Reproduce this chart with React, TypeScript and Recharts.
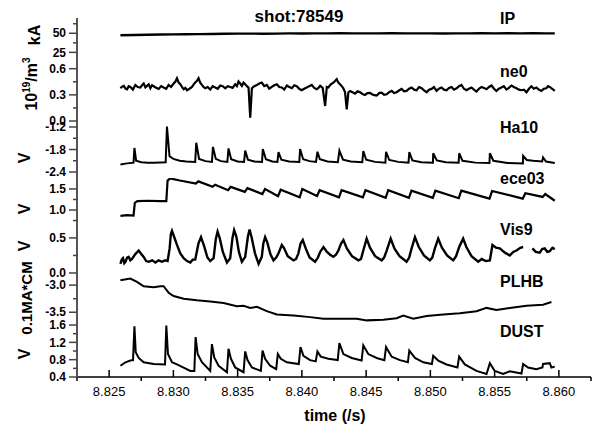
// Stacked shot traces, shot 78549

import { LineChart, Line, XAxis, YAxis } from "recharts";

const FONT = "'Liberation Sans', Arial, sans-serif";

const xTicks = [
  8.8225, 8.825, 8.8275, 8.83, 8.8325, 8.835, 8.8375, 8.84, 8.8425, 8.845,
  8.8475, 8.85, 8.8525, 8.855, 8.8575, 8.86, 8.8625,
];

const ipTicks = [25, 37.5, 50, 62.5];
const ipLabels = [25, 50];
const ne0Ticks = [0, 0.15, 0.3, 0.45, 0.6];
const ne0Labels = [0, 0.3, 0.6];
const ha10Ticks = [-2.4, -2.1, -1.8, -1.5, -1.2];
const ha10Labels = [-2.4, -1.8, -1.2];
const ece03Ticks = [0.75, 1.0, 1.25, 1.5];
const ece03Labels = [1.0, 1.5];
const vis9Ticks = [0, 0.25, 0.5];
const vis9Labels = [0, 0.5];
const plhbTicks = [-3.5, -3.25, -3.0];
const plhbLabels = [-3.5, -3.0];
const dustTicks = [0.4, 0.6, 0.8, 1.0, 1.2, 1.4, 1.6];
const dustLabels = [0.4, 0.8, 1.2, 1.6];

// [time (s), value]
const ipData = [
  [8.82588, 47.4], [8.827, 47.7], [8.828, 48.0], [8.829, 48.3], [8.83, 48.5],
  [8.831, 48.7], [8.832, 48.9], [8.833, 49.0], [8.834, 49.3], [8.835, 49.5],
  [8.836, 49.6], [8.837, 49.4], [8.838, 49.6], [8.839, 49.8], [8.84, 49.7],
  [8.841, 49.9], [8.842, 49.8], [8.843, 50.0], [8.844, 49.8], [8.845, 49.9],
  [8.846, 49.8], [8.847, 50.0], [8.848, 49.9], [8.849, 49.8], [8.85, 49.9],
  [8.851, 49.7], [8.852, 49.9], [8.853, 49.8], [8.854, 50.0], [8.855, 49.9],
  [8.856, 50.1], [8.857, 49.9], [8.858, 50.0], [8.859, 49.8], [8.85968, 49.9],
];

const ne0Data = [
  [8.82588, 0.376], [8.82601, 0.395], [8.82614, 0.403], [8.82627, 0.372], [8.8264, 0.364],
  [8.82652, 0.4], [8.82665, 0.391], [8.82685, 0.36], [8.82704, 0.414], [8.82723, 0.39],
  [8.82743, 0.384], [8.82756, 0.41], [8.82769, 0.43], [8.82782, 0.385], [8.82795, 0.403],
  [8.82808, 0.42], [8.82821, 0.376], [8.82834, 0.41], [8.82847, 0.399], [8.82866, 0.38],
  [8.82886, 0.368], [8.82905, 0.4], [8.82924, 0.384], [8.82944, 0.37], [8.82963, 0.414],
  [8.82982, 0.39], [8.83002, 0.43], [8.83015, 0.45], [8.83028, 0.491], [8.83041, 0.44],
  [8.83054, 0.422], [8.83067, 0.39], [8.8308, 0.364], [8.83093, 0.38], [8.83106, 0.353],
  [8.83125, 0.37], [8.83145, 0.391], [8.83158, 0.42], [8.8317, 0.441], [8.83183, 0.46],
  [8.83196, 0.491], [8.83209, 0.44], [8.83222, 0.414], [8.83235, 0.39], [8.83248, 0.376],
  [8.83267, 0.39], [8.83287, 0.361], [8.83306, 0.4], [8.83326, 0.384], [8.83345, 0.37],
  [8.83365, 0.407], [8.83384, 0.4], [8.83404, 0.376], [8.83423, 0.4], [8.83442, 0.391],
  [8.83461, 0.38], [8.83481, 0.422], [8.83494, 0.4], [8.83507, 0.453], [8.8352, 0.43],
  [8.83533, 0.403], [8.83546, 0.44], [8.83559, 0.422], [8.83572, 0.4], [8.83585, 0.384],
  [8.83598, 0.038], [8.83611, 0.376], [8.8363, 0.4], [8.8365, 0.414], [8.83669, 0.43],
  [8.83688, 0.441], [8.83707, 0.4], [8.83727, 0.414], [8.83746, 0.37], [8.83766, 0.391],
  [8.83785, 0.41], [8.83805, 0.422], [8.83824, 0.39], [8.83844, 0.384], [8.83863, 0.36],
  [8.83883, 0.407], [8.83902, 0.39], [8.83922, 0.376], [8.83941, 0.41], [8.8396, 0.399],
  [8.83979, 0.37], [8.83999, 0.353], [8.84018, 0.37], [8.84038, 0.384], [8.84057, 0.4],
  [8.84077, 0.414], [8.84096, 0.38], [8.84116, 0.364], [8.84129, 0.38], [8.84142, 0.403],
  [8.84162, 0.38], [8.84181, 0.172], [8.84194, 0.39], [8.84206, 0.384], [8.84225, 0.42],
  [8.84245, 0.441], [8.84258, 0.46], [8.84271, 0.48], [8.84284, 0.44], [8.84297, 0.422],
  [8.8431, 0.4], [8.84323, 0.376], [8.84336, 0.33], [8.84349, 0.134], [8.84362, 0.33],
  [8.84375, 0.345], [8.84394, 0.33], [8.84414, 0.314], [8.84433, 0.34], [8.84453, 0.33],
  [8.84472, 0.31], [8.84491, 0.299], [8.8451, 0.32], [8.8453, 0.322], [8.84556, 0.3],
  [8.84582, 0.291], [8.84601, 0.32], [8.84621, 0.326], [8.8464, 0.3], [8.8466, 0.307],
  [8.84679, 0.33], [8.84699, 0.345], [8.84718, 0.32], [8.84737, 0.33], [8.84756, 0.35],
  [8.84776, 0.368], [8.84795, 0.34], [8.84815, 0.345], [8.84834, 0.37], [8.84854, 0.384],
  [8.84873, 0.36], [8.84893, 0.353], [8.84912, 0.39], [8.84932, 0.376], [8.84951, 0.35],
  [8.84971, 0.33], [8.8499, 0.36], [8.85009, 0.368], [8.85028, 0.39], [8.85048, 0.345],
  [8.85067, 0.37], [8.85087, 0.384], [8.85106, 0.36], [8.85126, 0.353], [8.85145, 0.38],
  [8.85165, 0.391], [8.85184, 0.36], [8.85204, 0.376], [8.85223, 0.4], [8.85242, 0.414],
  [8.85261, 0.37], [8.85281, 0.353], [8.853, 0.37], [8.8532, 0.384], [8.85339, 0.36],
  [8.85359, 0.338], [8.85378, 0.37], [8.85398, 0.391], [8.85417, 0.38], [8.85437, 0.364],
  [8.85456, 0.39], [8.85476, 0.407], [8.85495, 0.37], [8.85514, 0.345], [8.85533, 0.37],
  [8.85553, 0.384], [8.85572, 0.4], [8.85592, 0.361], [8.85611, 0.38], [8.85631, 0.407],
  [8.8565, 0.39], [8.8567, 0.376], [8.8569, 0.36], [8.85709, 0.353], [8.85728, 0.36],
  [8.85748, 0.33], [8.85767, 0.37], [8.85786, 0.399], [8.85805, 0.37], [8.85825, 0.384],
  [8.85844, 0.36], [8.85864, 0.345], [8.85883, 0.37], [8.85903, 0.376], [8.85916, 0.4],
  [8.85929, 0.391], [8.85948, 0.37], [8.85968, 0.345],
];

const ha10Data = [
  [8.82588, -2.2], [8.8264, -2.17], [8.8269, -2.15], [8.82697, -1.76], [8.8271, -2.1],
  [8.8275, -2.14], [8.828, -2.15], [8.8285, -2.15], [8.8294, -2.14], [8.8295, -1.19],
  [8.8297, -1.98], [8.83, -2.05], [8.8305, -2.1], [8.831, -2.12], [8.8317, -2.13],
  [8.83178, -1.62], [8.832, -2.05], [8.8325, -2.11], [8.833, -2.13], [8.83308, -1.73],
  [8.8333, -2.05], [8.8337, -2.11], [8.8342, -2.13], [8.83429, -1.77], [8.8345, -2.06],
  [8.835, -2.12], [8.8355, -2.13], [8.83559, -1.83], [8.8358, -2.07], [8.8363, -2.12],
  [8.8369, -2.13], [8.83696, -1.79], [8.8372, -2.06], [8.8377, -2.12], [8.8381, -2.13],
  [8.83818, -1.87], [8.8384, -2.07], [8.839, -2.12], [8.8398, -2.13], [8.83986, -1.79],
  [8.8401, -2.06], [8.8406, -2.11], [8.8411, -2.13], [8.84121, -1.86], [8.8414, -2.06],
  [8.842, -2.12], [8.8428, -2.14], [8.84292, -1.83], [8.8432, -2.07], [8.8438, -2.12],
  [8.8447, -2.14], [8.84478, -1.84], [8.845, -2.07], [8.8457, -2.13], [8.8465, -2.15],
  [8.84655, -1.86], [8.8468, -2.08], [8.8475, -2.13], [8.8483, -2.15], [8.84836, -1.87],
  [8.8486, -2.09], [8.8493, -2.14], [8.8502, -2.15], [8.85022, -1.9], [8.8505, -2.09],
  [8.8512, -2.14], [8.8522, -2.15], [8.85224, -1.9], [8.8525, -2.1], [8.8535, -2.15],
  [8.8546, -2.16], [8.85463, -1.9], [8.8549, -2.1], [8.856, -2.16], [8.8572, -2.17],
  [8.85722, -1.97], [8.8575, -2.08], [8.858, -2.1], [8.8587, -2.12], [8.85877, -2.01],
  [8.859, -2.12], [8.85968, -2.16],
];

const ece03Data = [
  [8.82588, 0.86], [8.8264, 0.88], [8.8269, 0.87], [8.827, 1.17], [8.8272, 1.21],
  [8.828, 1.22], [8.829, 1.21], [8.82945, 1.21], [8.82955, 1.7], [8.82975, 1.75],
  [8.8305, 1.7], [8.83175, 1.63], [8.83195, 1.68], [8.83305, 1.55], [8.83325, 1.6],
  [8.83426, 1.47], [8.83446, 1.55], [8.83556, 1.43], [8.83576, 1.52], [8.83693, 1.38],
  [8.83713, 1.5], [8.83815, 1.33], [8.83835, 1.48], [8.83983, 1.3], [8.84003, 1.5],
  [8.84118, 1.33], [8.84138, 1.47], [8.84289, 1.3], [8.84309, 1.47], [8.84475, 1.3],
  [8.84495, 1.47], [8.84652, 1.29], [8.84672, 1.47], [8.84833, 1.29], [8.84853, 1.46],
  [8.85019, 1.29], [8.85039, 1.46], [8.85221, 1.28], [8.85241, 1.46], [8.8546, 1.27],
  [8.8548, 1.45], [8.85719, 1.27], [8.85739, 1.4], [8.85874, 1.31], [8.85894, 1.38],
  [8.85968, 1.22],
];

const vis9Data = [
  [8.82588, 0.13], [8.82598, 0.19], [8.82608, 0.21], [8.82618, 0.14], [8.82627, 0.16],
  [8.8264, 0.22], [8.82652, 0.23], [8.82665, 0.18], [8.82678, 0.2], [8.82704, 0.27],
  [8.8273, 0.32], [8.8275, 0.27], [8.82769, 0.23], [8.82788, 0.17], [8.82808, 0.16],
  [8.82835, 0.18], [8.8286, 0.15], [8.82885, 0.18], [8.82911, 0.16], [8.82935, 0.18],
  [8.82955, 0.17], [8.82971, 0.35], [8.8298, 0.55], [8.82989, 0.6], [8.83005, 0.52],
  [8.83028, 0.4], [8.83054, 0.28], [8.8308, 0.21], [8.83106, 0.17], [8.83132, 0.15],
  [8.8315, 0.19], [8.8317, 0.19], [8.83195, 0.42], [8.83215, 0.51], [8.8324, 0.38],
  [8.83265, 0.22], [8.83287, 0.17], [8.83313, 0.21], [8.8333, 0.48], [8.83344, 0.59],
  [8.8336, 0.5], [8.83385, 0.3], [8.83417, 0.15], [8.83442, 0.21], [8.8346, 0.5],
  [8.83473, 0.61], [8.8349, 0.52], [8.8351, 0.3], [8.83533, 0.16], [8.83559, 0.23],
  [8.8358, 0.52], [8.83593, 0.62], [8.8361, 0.5], [8.83635, 0.28], [8.83663, 0.13],
  [8.83688, 0.23], [8.837, 0.42], [8.83714, 0.51], [8.8373, 0.44], [8.83755, 0.27],
  [8.83779, 0.18], [8.838, 0.22], [8.83818, 0.28], [8.83844, 0.4], [8.8386, 0.36],
  [8.8389, 0.24], [8.83935, 0.18], [8.83955, 0.2], [8.83973, 0.28], [8.8399, 0.42],
  [8.84007, 0.47], [8.8403, 0.35], [8.8406, 0.22], [8.84103, 0.16], [8.84125, 0.22],
  [8.84142, 0.3], [8.84168, 0.37], [8.84195, 0.3], [8.8422, 0.26], [8.84245, 0.23],
  [8.84265, 0.26], [8.84284, 0.32], [8.84305, 0.42], [8.84323, 0.47], [8.8435, 0.35],
  [8.8439, 0.24], [8.8444, 0.18], [8.8446, 0.2], [8.84478, 0.32], [8.84504, 0.49],
  [8.8453, 0.36], [8.8457, 0.24], [8.84621, 0.18], [8.8464, 0.22], [8.8466, 0.32],
  [8.84691, 0.49], [8.8472, 0.35], [8.8476, 0.24], [8.84815, 0.16], [8.84835, 0.22],
  [8.84854, 0.35], [8.8488, 0.51], [8.8491, 0.37], [8.8495, 0.25], [8.84996, 0.18],
  [8.85015, 0.22], [8.85035, 0.35], [8.85061, 0.49], [8.8509, 0.36], [8.8513, 0.25],
  [8.85178, 0.18], [8.852, 0.24], [8.85224, 0.37], [8.85255, 0.49], [8.8528, 0.37],
  [8.8532, 0.24], [8.85372, 0.16], [8.854, 0.2], [8.8543, 0.17], [8.85463, 0.18],
  [8.85483, 0.4], [8.8551, 0.36], [8.8554, 0.35], [8.8558, 0.29], [8.85618, 0.25],
  [8.85645, 0.3], [8.8567, 0.32], [8.857, 0.36], [8.85722, 0.37], [8.8574, null],
  [8.85794, 0.35], [8.8582, 0.3], [8.85851, 0.29], [8.8587, 0.34], [8.8589, 0.35],
  [8.8591, 0.3], [8.85929, 0.31], [8.8595, 0.36], [8.85968, 0.34],
];

const plhbData = [
  [8.82588, -2.91], [8.82665, -2.88], [8.82717, -2.94], [8.82769, -3.02], [8.82847, -3.04],
  [8.82899, -3.02], [8.82924, -3.02], [8.82963, -3.14], [8.83002, -3.2], [8.8308, -3.25],
  [8.83183, -3.28], [8.83287, -3.3], [8.83391, -3.33], [8.83494, -3.39], [8.83546, -3.38],
  [8.83598, -3.42], [8.8365, -3.4], [8.83727, -3.48], [8.83805, -3.54], [8.83935, -3.56],
  [8.84064, -3.59], [8.84168, -3.62], [8.84323, -3.62], [8.84427, -3.62], [8.84504, -3.65],
  [8.84634, -3.64], [8.84737, -3.61], [8.84789, -3.56], [8.84867, -3.62], [8.84971, -3.57],
  [8.851, -3.54], [8.8523, -3.52], [8.85359, -3.48], [8.85437, -3.42], [8.85514, -3.46],
  [8.85618, -3.42], [8.85748, -3.38], [8.85877, -3.36], [8.85942, -3.31],
];

const dustData = [
  [8.82588, 0.66], [8.82627, 0.74], [8.82665, 0.78], [8.82686, 0.79], [8.82697, 1.57],
  [8.82707, 0.97], [8.8273, 0.84], [8.82769, 0.74], [8.82847, 0.7], [8.82935, 0.69],
  [8.82945, 1.59], [8.82958, 0.93], [8.82989, 0.74], [8.83028, 0.69], [8.83132, 0.54],
  [8.83163, 0.54], [8.83173, 1.32], [8.83189, 0.93], [8.83222, 0.74], [8.83287, 0.54],
  [8.833, 1.16], [8.83318, 0.85], [8.83352, 0.66], [8.83417, 0.51], [8.83429, 1.05],
  [8.83448, 0.82], [8.83481, 0.62], [8.83546, 0.51], [8.83559, 0.99], [8.83577, 0.79],
  [8.83611, 0.62], [8.83681, 0.54], [8.83694, 1.01], [8.83714, 0.82], [8.83753, 0.66],
  [8.838, 0.58], [8.83813, 0.93], [8.83836, 0.82], [8.83883, 0.74], [8.83976, 0.7],
  [8.83989, 1.09], [8.84012, 0.89], [8.84064, 0.79], [8.84108, 0.76], [8.84121, 0.99],
  [8.84147, 0.87], [8.84206, 0.82], [8.84279, 0.79], [8.84292, 1.18], [8.84323, 0.93],
  [8.84388, 0.84], [8.84465, 0.78], [8.84478, 1.13], [8.84517, 0.93], [8.84582, 0.84],
  [8.84642, 0.79], [8.84655, 1.09], [8.84699, 0.87], [8.84763, 0.79], [8.84825, 0.74],
  [8.84836, 1.01], [8.8488, 0.84], [8.84945, 0.74], [8.85012, 0.7], [8.85022, 0.89],
  [8.85061, 0.78], [8.85126, 0.69], [8.85211, 0.62], [8.85224, 0.87], [8.85268, 0.69],
  [8.85359, 0.54], [8.85437, 0.47], [8.85463, 0.72], [8.85501, 0.54], [8.85566, 0.47],
  [8.85618, 0.53], [8.85709, 0.48], [8.85722, 0.7], [8.8576, 0.62], [8.85825, 0.58],
  [8.85872, 0.62], [8.85877, 0.7], [8.85929, 0.72], [8.85942, 0.62], [8.85968, 0.64],
];

const xDomain = [8.8225, 8.8625];
const PAD = 10; // room above/below each band so edge tick labels are not clipped

function YTick(props: any) {
  const { x, y, payload, labels, digits } = props;
  const major = labels.includes(payload.value);
  return (
    <g>
      <line x1={x - (major ? 8 : 4)} x2={x} y1={y} y2={y} stroke="#444" strokeWidth={1.5} />
      {major && (
        <text x={x - 11} y={y} dy={4.2} textAnchor="end" fontSize={12} fontWeight="bold" fontFamily={FONT} fill="#000">
          {payload.value.toFixed(digits)}
        </text>
      )}
    </g>
  );
}

function XTick(props: any) {
  const { x, y, payload } = props;
  const major = Math.round(payload.value * 10000) % 50 === 0;
  return (
    <g>
      <line x1={x} x2={x} y1={y} y2={major ? y - 7 : y + 4} stroke="#000" strokeWidth={1.5} />
      {major && (
        <text x={x} y={y + 19} textAnchor="middle" fontSize={13} fontFamily={FONT} fill="#000">
          {payload.value.toFixed(3)}
        </text>
      )}
    </g>
  );
}

function Panel({ data, top, height, domain, ticks, labels, digits, last, width = 2 }: any) {
  const rows = data.map(([t, v]: any) => ({ t, v }));
  return (
    <div style={{ position: "absolute", left: 0, top: top - PAD }}>
      <LineChart
        width={600}
        height={height + PAD + (last ? 50 : PAD)}
        data={rows}
        margin={{ top: PAD, right: 9, bottom: last ? 0 : PAD, left: 0 }}
      >
        <XAxis
          dataKey="t"
          type="number"
          domain={xDomain}
          allowDataOverflow
          ticks={xTicks}
          interval={0}
          hide={!last}
          height={50}
          tickSize={0}
          tickMargin={0}
          tickLine={false}
          axisLine={{ stroke: "#000", strokeWidth: 1.5 }}
          tick={(p: any) => <XTick {...p} />}
        />
        <YAxis
          type="number"
          domain={domain}
          allowDataOverflow
          ticks={ticks}
          interval={0}
          width={77}
          tickSize={0}
          tickMargin={0}
          tickLine={false}
          axisLine={{ stroke: "#555", strokeWidth: 2 }}
          tick={(p: any) => <YTick {...p} labels={labels} digits={digits} />}
        />
        <Line
          type="linear"
          dataKey="v"
          stroke="#000"
          strokeWidth={width}
          dot={false}
          isAnimationActive={false}
        />
      </LineChart>
    </div>
  );
}

function RotText({ x, y, size = 16, children }: any) {
  return (
    <text
      transform={`translate(${x},${y}) rotate(-90)`}
      textAnchor="middle"
      fontSize={size}
      fontWeight="bold"
      fontFamily={FONT}
      fill="#000"
    >
      {children}
    </text>
  );
}

export default function App() {
  const label = { fontSize: 16, fontWeight: "bold", fontFamily: FONT, fill: "#000" } as any;
  return (
    <div style={{ position: "absolute", left: 0, top: 0, width: 600, height: 427, background: "#fff" }}>
      <Panel data={ipData} top={18} height={42} domain={[15, 70]} ticks={ipTicks} labels={ipLabels} digits={0} width={2.4} />
      <Panel data={ne0Data} top={60} height={61} domain={[0, 0.7]} ticks={ne0Ticks} labels={ne0Labels} digits={1} width={2.2} />
      <Panel data={ha10Data} top={121} height={57} domain={[-2.56, -1.04]} ticks={ha10Ticks} labels={ha10Labels} digits={1} />
      <Panel data={ece03Data} top={178} height={48} domain={[0.62, 1.76]} ticks={ece03Ticks} labels={ece03Labels} digits={1} width={2.2} />
      <Panel data={vis9Data} top={226} height={54} domain={[-0.1, 0.67]} ticks={vis9Ticks} labels={vis9Labels} digits={1} width={2.4} />
      <Panel data={plhbData} top={277} height={45} domain={[-3.68, -2.85]} ticks={plhbTicks} labels={plhbLabels} digits={1} />
      <Panel data={dustData} top={322} height={55} domain={[0.4, 1.67]} ticks={dustTicks} labels={dustLabels} digits={1} last />
      <svg width={600} height={427} style={{ position: "absolute", left: 0, top: 0, pointerEvents: "none" }}>
        <text x={299} y={22} textAnchor="middle" {...label} fontSize={17}>shot:78549</text>
        <text x={500} y={24} {...label}>IP</text>
        <text x={500} y={77} {...label}>ne0</text>
        <text x={500} y={133} {...label}>Ha10</text>
        <text x={500} y={184} {...label}>ece03</text>
        <text x={500} y={235} {...label}>Vis9</text>
        <text x={500} y={287} {...label}>PLHB</text>
        <text x={500} y={337} {...label}>DUST</text>
        <text x={335} y={421} textAnchor="middle" {...label}>time (/s)</text>
        <RotText x={40} y={35}>kA</RotText>
        <RotText x={37} y={84}>
          10<tspan dy={-7} fontSize={10}>19</tspan>
          <tspan dy={7}>/m</tspan>
          <tspan dy={-7} fontSize={10}>3</tspan>
        </RotText>
        <RotText x={30} y={158}>V</RotText>
        <RotText x={30} y={209}>V</RotText>
        <RotText x={30} y={246}>V</RotText>
        <RotText x={32} y={298} size={15}>0.1MA*CM</RotText>
        <RotText x={30} y={354}>V</RotText>
      </svg>
    </div>
  );
}
